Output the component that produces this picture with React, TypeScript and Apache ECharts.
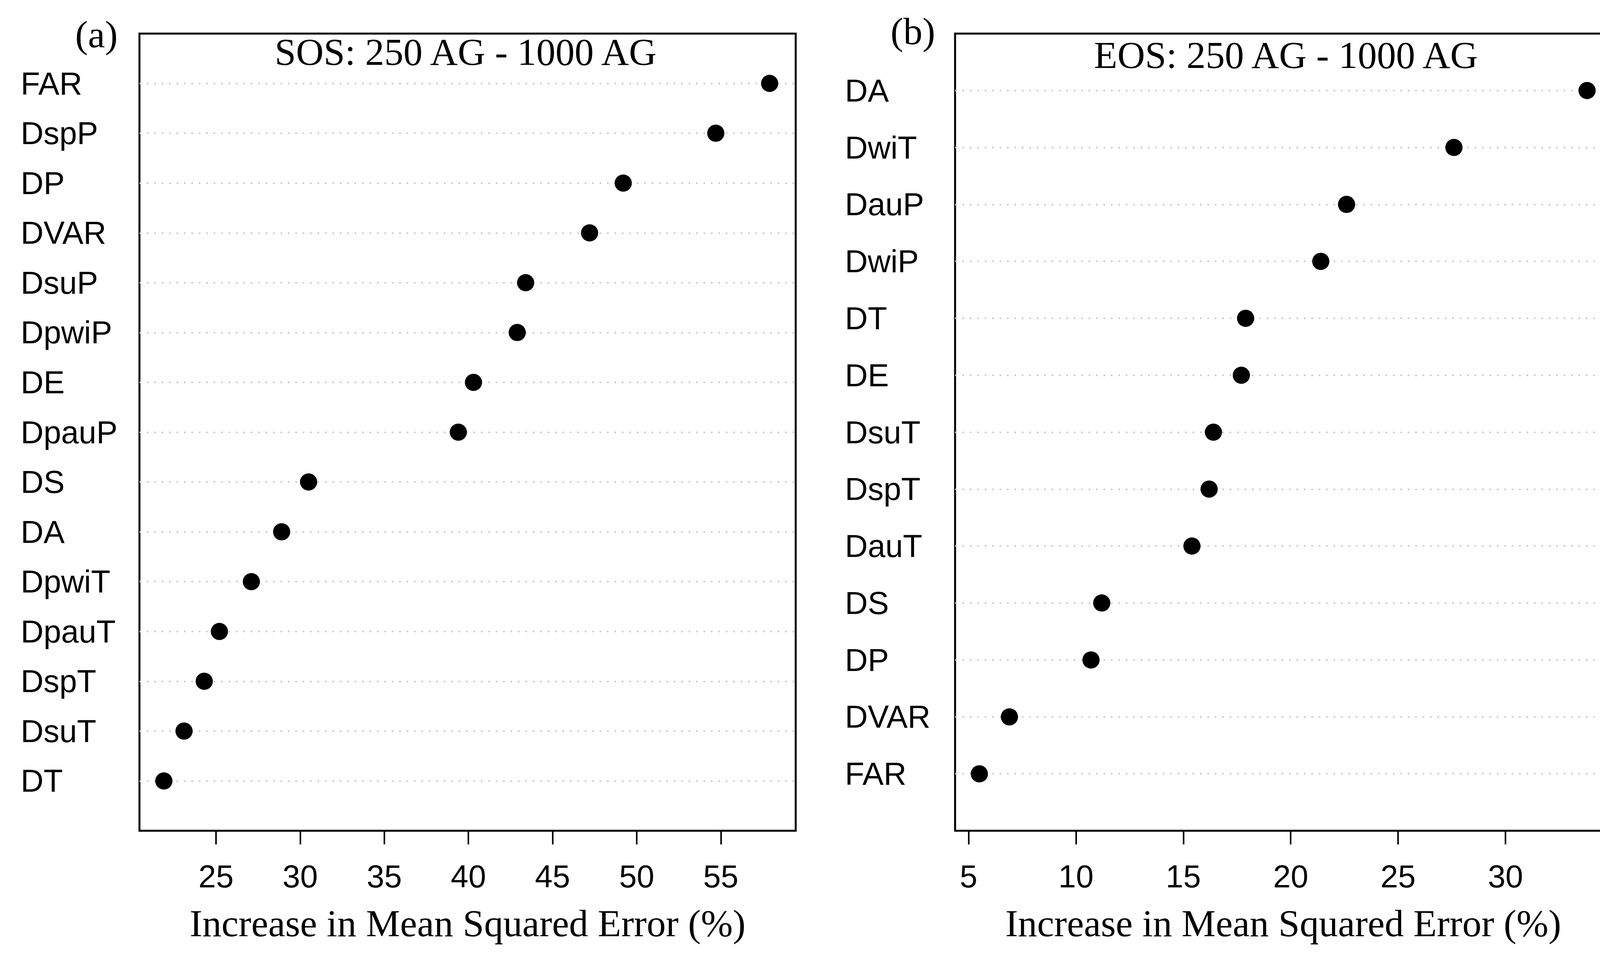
import React, { useEffect, useRef } from "react";
import * as echarts from "echarts";

// Panel (a): SOS
const catsA = ["FAR", "DspP", "DP", "DVAR", "DsuP", "DpwiP", "DE", "DpauP", "DS", "DA", "DpwiT", "DpauT", "DspT", "DsuT", "DT"];
const valsA = [57.9, 54.7, 49.2, 47.2, 43.4, 42.9, 40.3, 39.4, 30.5, 28.9, 27.1, 25.2, 24.3, 23.1, 21.9];
const ticksA = [25, 30, 35, 40, 45, 50, 55];
const rangeA = [20.45, 59.45];

// Panel (b): EOS
const catsB = ["DA", "DwiT", "DauP", "DwiP", "DT", "DE", "DsuT", "DspT", "DauT", "DS", "DP", "DVAR", "FAR"];
const valsB = [33.8, 27.6, 22.6, 21.4, 17.9, 17.7, 16.4, 16.2, 15.4, 11.2, 10.7, 6.9, 5.5];
const ticksB = [5, 10, 15, 20, 25, 30];
const rangeB = [4.37, 34.93];

const titles = ["SOS: 250 AG - 1000 AG", "EOS: 250 AG - 1000 AG"];
const panelTags = ["(a)", "(b)"];
const xName = "Increase in Mean Squared Error (%)";

const SANS = "Liberation Sans, Arial, Helvetica, sans-serif";
const SERIF = "Liberation Serif, Times New Roman, serif";

function buildPanel(idx: number, cats: string[], vals: number[], ticks: number[], range: number[], labelMargin: number) {
  const xAxis = {
    type: "value",
    gridIndex: idx,
    position: "bottom",
    min: range[0],
    max: range[1],
    axisLine: { show: false, onZero: false },
    splitLine: { show: false },
    axisTick: {
      show: true,
      inside: false,
      length: 35,
      customValues: ticks,
      lineStyle: { color: "#000", width: 4 },
    },
    axisLabel: {
      show: true,
      customValues: ticks,
      fontSize: 81,
      fontFamily: SANS,
      color: "#000",
      margin: 76,
    },
    name: xName,
    nameLocation: "middle",
    nameGap: 188,
    nameTextStyle: { fontSize: 98, fontFamily: SERIF, color: "#000" },
  };
  const yAxis = {
    type: "value",
    gridIndex: idx,
    position: "left",
    min: 0,
    max: cats.length + 1,
    interval: 1,
    inverse: true,
    axisLine: { show: false, onZero: false },
    axisTick: { show: false },
    splitLine: { show: false },
    axisLabel: {
      show: true,
      align: "left",
      margin: labelMargin,
      fontSize: 81,
      fontFamily: SANS,
      color: "#000",
      customValues: cats.map((_, i) => i + 1),
      formatter: (v: number) => cats[Math.round(v) - 1] ?? "",
    },
  };
  const series = {
    type: "scatter",
    xAxisIndex: idx,
    yAxisIndex: idx,
    z: 3,
    symbol: "circle",
    symbolSize: 44,
    itemStyle: { color: "#000", opacity: 1 },
    emphasis: { disabled: true },
    data: vals.map((v, i) => [v, i + 1]),
    markLine: {
      silent: true,
      z: 1,
      symbol: ["none", "none"],
      label: { show: false },
      emphasis: { disabled: true },
      lineStyle: { color: "#c8c8c8", type: [4, 15], width: 4, opacity: 1 },
      data: cats.map((_, i) => ({ yAxis: i + 1 })),
    },
  };
  return { xAxis, yAxis, series };
}

export default function App() {
  const ref = useRef<HTMLDivElement>(null);
  useEffect(() => {
    if (!ref.current) return;
    const chart = echarts.init(ref.current, undefined, { renderer: "svg" });
    const pA = buildPanel(0, catsA, valsA, ticksA, rangeA, 304);
    const pB = buildPanel(1, catsB, valsB, ticksB, rangeB, 282);
    chart.setOption({
      animation: false,
      backgroundColor: "#fff",
      grid: [
        { left: 357, top: 86, width: 1680, height: 2041, show: true, borderColor: "#000", borderWidth: 5, backgroundColor: "transparent" },
        { left: 2445, top: 86, width: 1680, height: 2041, show: true, borderColor: "#000", borderWidth: 5, backgroundColor: "transparent" },
      ],
      xAxis: [pA.xAxis, pB.xAxis],
      yAxis: [pA.yAxis, pB.yAxis],
      series: [pA.series, pB.series],
      graphic: [
        { type: "text", x: 1192, y: 133, style: { text: titles[0], fontSize: 98, fontFamily: SERIF, fill: "#000", align: "center", verticalAlign: "middle" } },
        { type: "text", x: 3292, y: 141, style: { text: titles[1], fontSize: 98, fontFamily: SERIF, fill: "#000", align: "center", verticalAlign: "middle" } },
        { type: "text", x: 247, y: 88, style: { text: panelTags[0], fontSize: 98, fontFamily: SERIF, fill: "#000", align: "center", verticalAlign: "middle" } },
        { type: "text", x: 2337, y: 80, style: { text: panelTags[1], fontSize: 98, fontFamily: SERIF, fill: "#000", align: "center", verticalAlign: "middle" } },
      ],
    });
    return () => chart.dispose();
  }, []);
  return (
    <div
      ref={ref}
      style={{ position: "fixed", left: 0, top: 0, width: 4165, height: 2440, background: "#fff" }}
    />
  );
}
